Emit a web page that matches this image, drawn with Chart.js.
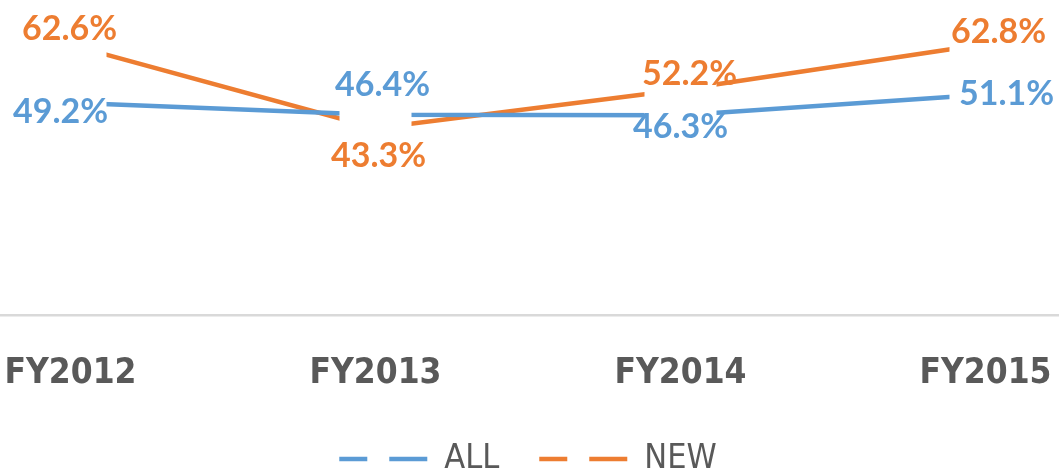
<!DOCTYPE html>
<html>
<head>
<meta charset="utf-8">
<script src="https://cdn.jsdelivr.net/npm/chart.js@4.4.1/dist/chart.umd.min.js"></script>
<style>
  html, body { margin: 0; padding: 0; background: #fff; overflow: hidden; }
  #wrap { position: absolute; left: -82px; top: 0; width: 1220px; height: 473px; }
</style>
</head>
<body>
<div id="wrap"><canvas id="chart"></canvas></div>
<script>
const categories = ['FY2012', 'FY2013', 'FY2014', 'FY2015'];
const allValues = [49.2, 46.4, 46.3, 51.1];
const newValues = [62.6, 43.3, 52.2, 62.8];

// label offsets from each point (px), as placed in the original
const allLabelOffsets = [[-10, 9], [7, -30], [0, 12], [21, 0]];
const newLabelOffsets = [[-1, -16], [3, 28], [9, -16], [13, -12]];

const blue = '#5B9BD5';
const orange = '#ED7D31';
const narrow = '"DejaVu Sans Condensed", "DejaVu Sans", sans-serif';

// white gap round each category point, then the value labels
const gapLabels = {
  id: 'gapLabels',
  afterDatasetsDraw(chart) {
    const ctx = chart.ctx;
    const metas = chart.data.datasets.map((d, i) => chart.getDatasetMeta(i));
    ctx.save();
    ctx.fillStyle = '#fff';
    categories.forEach((c, j) => {
      const ys = metas.map(m => m.data[j].y);
      const x = metas[0].data[j].x;
      const top = Math.min(...ys) - 12;
      const bottom = Math.max(...ys) + 12;
      ctx.fillRect(x - 36, top, 72, bottom - top);
    });
    ctx.font = 'bold 34px Lato, "Open Sans", sans-serif';
    ctx.textAlign = 'center';
    ctx.textBaseline = 'middle';
    chart.data.datasets.forEach((ds, i) => {
      const offs = ds.labelOffsets;
      ctx.fillStyle = ds.borderColor;
      metas[i].data.forEach((p, j) => {
        ctx.fillText(ds.data[j].toFixed(1) + '%', p.x + offs[j][0], p.y + offs[j][1]);
      });
    });
    ctx.restore();
  }
};

const ctx = document.getElementById('chart');

new Chart(ctx, {
  type: 'line',
  data: {
    labels: categories,
    datasets: [
      {
        label: 'ALL',
        data: allValues,
        borderColor: blue,
        backgroundColor: blue,
        borderWidth: 4.5,
        pointRadius: 0,
        labelOffsets: allLabelOffsets
      },
      {
        label: 'NEW',
        data: newValues,
        borderColor: orange,
        backgroundColor: orange,
        borderWidth: 4.5,
        pointRadius: 0,
        labelOffsets: newLabelOffsets
      }
    ]
  },
  options: {
    responsive: true,
    maintainAspectRatio: false,
    animation: false,
    // legend sits partly below the bottom edge, as in the cropped original
    layout: { padding: { top: 0, left: 0, right: 0, bottom: -13 } },
    plugins: {
      tooltip: { enabled: false },
      legend: {
        position: 'bottom',
        labels: {
          usePointStyle: true,
          pointStyleWidth: 88,
          boxHeight: 30,
          padding: 40,
          color: '#595959',
          font: { family: narrow, size: 34 },
          generateLabels(chart) {
            return chart.data.datasets.map((ds, i) => ({
              text: ds.label,
              datasetIndex: i,
              pointStyle: 'line',
              strokeStyle: ds.borderColor,
              fillStyle: ds.borderColor,
              lineWidth: 4.5,
              lineDash: [28, 22, 38, 10],
              fontColor: '#595959'
            }));
          }
        }
      }
    },
    scales: {
      x: {
        offset: true,
        grid: { display: false },
        border: { display: true, color: '#d9d9d9', width: 2.5 },
        ticks: {
          color: '#595959',
          padding: 30,
          font: { family: narrow, size: 35, weight: 'bold' }
        },
        afterFit(scale) {
          scale.height = 87;
        }
      },
      y: {
        display: false,
        min: 0,
        max: 73
      }
    }
  },
  plugins: [gapLabels]
});
</script>
</body>
</html>
